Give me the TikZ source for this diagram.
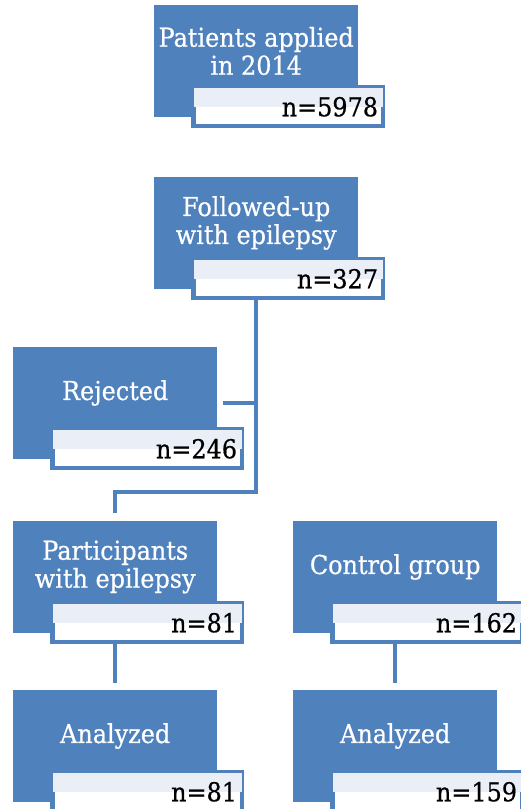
\documentclass[tikz,border=0pt]{standalone}
\usepackage{fontspec}
\setmainfont{DejaVu Serif}[FakeStretch=0.92,FakeBold=0.6]
\usetikzlibrary{calc,backgrounds}
\definecolor{obblue}{HTML}{4F81BD}
\definecolor{glossblue}{HTML}{E9EEF7}
\tikzset{
  mainbox/.style={fill=obblue, draw=none, minimum width=204pt, minimum height=112pt, inner sep=0pt, anchor=north west},
  numbox/.style={draw=obblue, line width=4.5pt, fill=white, minimum width=189.5pt, minimum height=38.5pt, inner sep=0pt, anchor=north west},
  titletext/.style={text=white, align=center, font=\fontsize{26}{28}\selectfont, inner sep=0pt},
  numtext/.style={text=black, font=\fontsize{26}{28}\selectfont, inner sep=0pt, anchor=base east},
  conn/.style={draw=obblue, line width=4.5pt},
}
\newcommand\flowbox[5]{%
  \node[mainbox] (#1) at (#2,#3) {};
  \node[titletext] (#1-t) at ($(#1.north)+(0,46)$) {#4};
  \node[numbox] (#1-n) at ($(#1.north west)+(37.25,80.25)$) {};
  \fill[glossblue] ($(#1-n.north west)+(2.25,2.25)$) rectangle ($(#1-n.east)+(-2.25,0)$);
  \node[numtext] (#1-v) at ($(#1-n.south east)+(-7,-12)$) {#5};
}
\begin{document}
\begin{tikzpicture}[x=1pt,y=-1pt]
  \useasboundingbox (0,0) rectangle (521,809);
  \flowbox{app}{154}{5}{Patients applied\\in 2014}{n=5978}
  \flowbox{fol}{154}{177}{Followed-up\\with epilepsy}{n=327}
  \flowbox{rej}{13}{347}{Rejected}{n=246}
  \flowbox{par}{13}{521}{Participants\\with epilepsy}{n=81}
  \flowbox{ctl}{293}{521}{Control group}{n=162}
  \flowbox{an1}{13}{690}{Analyzed}{n=81}
  \flowbox{an2}{293}{690}{Analyzed}{n=159}
  \coordinate (split) at (186,492);
  \begin{pgfonlayer}{background}
    \draw[conn, shorten >=8pt] (fol.south) |- (split) -| (par.north);
    \draw[conn, shorten <=6pt] (rej.east) -- (rej.east -| fol.south);
    \draw[conn, shorten >=7pt] (par.south) -- (an1.north);
    \draw[conn, shorten >=7pt] (ctl.south) -- (an2.north);
  \end{pgfonlayer}
\end{tikzpicture}
\end{document}
